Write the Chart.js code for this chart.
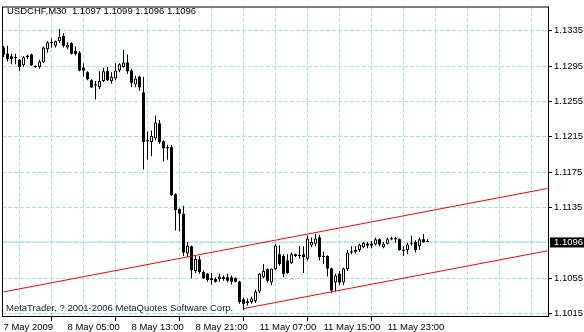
<!DOCTYPE html>
<html>
<head>
<meta charset="utf-8">
<script src="https://cdn.jsdelivr.net/npm/chart.js@4.4.1/dist/chart.umd.min.js"></script>
<style>
html,body{margin:0;padding:0;background:#fff;}
#wrap{position:relative;width:584px;height:332px;}
</style>
</head>
<body>
<div id="wrap"><canvas id="c" width="584" height="332"></canvas></div>
<script>
// ---------------- DATA ----------------
const symbol = "USDCHF,M30";
const copyright = "MetaTrader, ? 2001-2006 MetaQuotes Software Corp.";
const timeLabels = ["7 May 2009", "8 May 05:00", "8 May 13:00", "8 May 21:00", "11 May 07:00", "11 May 15:00", "11 May 23:00"];
const labelBars = [0, 16, 32, 48, 64, 80, 96];
const yTickValues = [1.1015, 1.1055, 1.1095, 1.1135, 1.1175, 1.1215, 1.1255, 1.1295, 1.1335];

const opens = [
 1.1316,1.1309,1.1306,1.1304,1.1302,1.1296,1.1305,1.1308,1.1295,1.1294,
 1.1299,1.1314,1.1321,1.1318,1.1323,1.1329,1.1316,1.1321,1.1312,1.1310,
 1.1293,1.1288,1.1279,1.1274,1.1271,1.1278,1.1289,1.1278,1.1281,1.1290,
 1.1294,1.1299,1.1290,1.1274,1.1283,1.1265,1.1210,1.1209,1.1213,1.1230,
 1.1210,1.1202,1.1203,1.1150,1.1133,1.1128,1.1083,1.1091,1.1063,1.1076,
 1.1062,1.1060,1.1055,1.1054,1.1054,1.1056,1.1056,1.1056,1.1055,1.1051,
 1.1031,1.1027,1.1028,1.1029,1.1040,1.1056,1.1065,1.1050,1.1065,1.1082,
 1.1080,1.1075,1.1072,1.1082,1.1081,1.1082,1.1077,1.1092,1.1094,1.1101,
 1.1080,1.1080,1.1066,1.1050,1.1060,1.1050,1.1065,1.1085,1.1087,1.1087,
 1.1090,1.1094,1.1094,1.1093,1.1099,1.1090,1.1094,1.1100,1.1099,1.1099,
 1.1087,1.1087,1.1094,1.1096,1.1091,1.1099,1.1097];
const highs = [
 1.1318,1.1318,1.1309,1.1309,1.1303,1.1306,1.1308,1.1309,1.1296,1.1302,
 1.1317,1.1323,1.1326,1.1324,1.1337,1.1332,1.1322,1.1322,1.1317,1.1312,
 1.1298,1.1289,1.1280,1.1278,1.1289,1.1293,1.1294,1.1288,1.1298,1.1298,
 1.1313,1.1308,1.1292,1.1284,1.1284,1.1283,1.1221,1.1222,1.1239,1.1234,
 1.1211,1.1206,1.1206,1.1151,1.1134,1.1137,1.1096,1.1092,1.1080,1.1080,
 1.1064,1.1061,1.1061,1.1056,1.1060,1.1058,1.1060,1.1058,1.1056,1.1052,
 1.1033,1.1032,1.1034,1.1042,1.1061,1.1071,1.1066,1.1066,1.1094,1.1092,
 1.1082,1.1082,1.1084,1.1083,1.1091,1.1091,1.1103,1.1101,1.1105,1.1104,
 1.1085,1.1081,1.1067,1.1060,1.1063,1.1067,1.1087,1.1091,1.1091,1.1094,
 1.1096,1.1096,1.1097,1.1101,1.1100,1.1096,1.1101,1.1102,1.1102,1.1100,
 1.1091,1.1095,1.1103,1.1098,1.1101,1.1105,1.1099];
const lows = [
 1.1305,1.1300,1.1297,1.1297,1.1289,1.1294,1.1303,1.1295,1.1293,1.1292,
 1.1298,1.1310,1.1316,1.1316,1.1321,1.1316,1.1314,1.1308,1.1307,1.1289,
 1.1283,1.1279,1.1270,1.1257,1.1269,1.1277,1.1278,1.1275,1.1279,1.1288,
 1.1293,1.1286,1.1271,1.1271,1.1267,1.1178,1.1189,1.1193,1.1211,1.1207,
 1.1187,1.1189,1.1148,1.1109,1.1108,1.1080,1.1079,1.1055,1.1061,1.1060,
 1.1054,1.1051,1.1048,1.1050,1.1051,1.1052,1.1050,1.1048,1.1050,1.1026,
 1.1019,1.1024,1.1026,1.1027,1.1038,1.1055,1.1050,1.1047,1.1064,1.1069,
 1.1056,1.1060,1.1071,1.1079,1.1077,1.1061,1.1075,1.1090,1.1091,1.1075,
 1.1071,1.1057,1.1038,1.1040,1.1047,1.1047,1.1063,1.1082,1.1083,1.1085,
 1.1089,1.1089,1.1089,1.1092,1.1091,1.1089,1.1093,1.1098,1.1095,1.1086,
 1.1080,1.1082,1.1092,1.1084,1.1087,1.1095,1.1096];
const closes = [
 1.1308,1.1303,1.1303,1.1304,1.1294,1.1305,1.1307,1.1296,1.1294,1.1300,
 1.1316,1.1322,1.1321,1.1323,1.1328,1.1318,1.1319,1.1309,1.1309,1.1290,
 1.1290,1.1280,1.1271,1.1273,1.1278,1.1289,1.1279,1.1283,1.1290,1.1297,
 1.1299,1.1289,1.1276,1.1281,1.1271,1.1209,1.1210,1.1216,1.1231,1.1209,
 1.1202,1.1202,1.1149,1.1132,1.1128,1.1084,1.1092,1.1064,1.1077,1.1062,
 1.1055,1.1053,1.1053,1.1051,1.1057,1.1054,1.1052,1.1051,1.1051,1.1028,
 1.1026,1.1029,1.1032,1.1040,1.1060,1.1063,1.1052,1.1066,1.1092,1.1071,
 1.1060,1.1061,1.1082,1.1080,1.1080,1.1079,1.1100,1.1096,1.1100,1.1079,
 1.1079,1.1066,1.1041,1.1058,1.1050,1.1066,1.1084,1.1084,1.1085,1.1093,
 1.1095,1.1092,1.1092,1.1099,1.1093,1.1094,1.1099,1.1099,1.1099,1.1087,
 1.1086,1.1093,1.1095,1.1087,1.1099,1.1096,1.1096];

// price channel: [bar index, price] anchor points
const channelUpper = [[0, 1.10395], [136, 1.11565]];
const channelLower = [[60, 1.10206], [136, 1.10860]];

// ---------------- LAYOUT ----------------
const last = closes.length - 1;
const bid = closes[last];
const FONT = '"Liberation Sans", Arial, sans-serif';
const GRID = '#a4e6e6';
const AREA = {left: 2, top: 2, right: 549, bottom: 317};
const BAR_W = 4, BAR0 = 3.5;            // px per bar, centre of bar 0
const PX_PER_UNIT = 287 / 0.032, Y_REF = 313.5, P_REF = 1.1015;
const xMin = (AREA.left - BAR0) / BAR_W;
const xMax = (AREA.right - BAR0) / BAR_W;
const yMax = P_REF + (Y_REF - AREA.top) / PX_PER_UNIT;
const yMin = P_REF - (AREA.bottom - Y_REF) / PX_PER_UNIT;

const gridBars = [];
for (let v = 0; v < xMax - 1; v += 8) gridBars.push(v);
const yTicksAll = yTickValues.concat([bid]).sort((a, b) => a - b);
const isHiddenY = v => v !== bid && Math.abs(v - bid) < 0.0003;

const bull = i => closes[i] > opens[i];
const idx = opens.map((_, i) => i);

const title = symbol + '  ' + [opens[last], highs[last], lows[last], closes[last]].map(v => v.toFixed(4)).join(' ');

const decor = {
  id: 'decor',
  beforeDatasetsDraw(chart) {
    const ctx = chart.ctx;
    ctx.save();
    ctx.font = '9.5px ' + FONT;
    ctx.fillStyle = '#000';
    ctx.textBaseline = 'alphabetic';
    ctx.fillText(title, 7, 14);
    ctx.fillStyle = '#1a1a2a';
    ctx.fillText(copyright, 6, 311);
    ctx.restore();
  },
  afterDraw(chart) {
    const ctx = chart.ctx, ca = chart.chartArea;
    ctx.save();
    ctx.setLineDash([]);
    ctx.strokeStyle = '#000';
    ctx.lineWidth = 1;
    ctx.strokeRect(ca.left + 0.5, ca.top + 0.5, ca.right - ca.left - 1, ca.bottom - ca.top - 1);
    ctx.restore();
  }
};

new Chart(document.getElementById('c'), {
  type: 'bar',
  data: {
    datasets: [
      {
        type: 'line', label: 'upper', order: 0,
        data: channelUpper.map(p => ({x: p[0], y: p[1]})),
        borderColor: '#ff0000', borderWidth: 1, pointRadius: 0, fill: false
      },
      {
        type: 'line', label: 'lower', order: 0,
        data: channelLower.map(p => ({x: p[0], y: p[1]})),
        borderColor: '#ff0000', borderWidth: 1, pointRadius: 0, fill: false
      },
      {
        label: 'bodies', order: 1,
        data: idx.map(i => ({x: i, y: [opens[i], closes[i]]})),
        backgroundColor: idx.map(i => bull(i) ? '#ffffff' : '#000000'),
        borderColor: '#000000',
        borderWidth: idx.map(i => bull(i) ? 1 : 0),
        borderSkipped: false,
        barThickness: 3, minBarLength: 1, grouped: false, inflateAmount: 0
      },
      {
        label: 'wicks', order: 2,
        data: idx.map(i => ({x: i, y: [lows[i], highs[i]]})),
        backgroundColor: '#000000', borderWidth: 0,
        barThickness: 1, minBarLength: 1, grouped: false, inflateAmount: 0
      },
      {
        type: 'line', label: 'bid', order: 3,
        data: [{x: xMin, y: bid}, {x: xMax, y: bid}],
        borderColor: GRID, borderWidth: 1, pointRadius: 0, fill: false
      }
    ]
  },
  options: {
    responsive: false, animation: false,
    layout: {autoPadding: false, padding: {left: AREA.left, top: AREA.top, right: 0, bottom: 0}},
    plugins: {legend: {display: false}, tooltip: {enabled: false}},
    font: {family: FONT, size: 9.5},
    scales: {
      x: {
        type: 'linear', offset: false, min: xMin, max: xMax,
        afterFit: s => { s.height = 332 - AREA.bottom; },
        afterBuildTicks: s => { s.ticks = gridBars.map(v => ({value: v})); },
        border: {display: false, dash: [4, 2]},
        grid: {
          color: c => (c.tick && c.tick.value === 0) ? 'rgba(0,0,0,0)' : GRID,
          lineWidth: 1, drawTicks: true, tickLength: 4, tickBorderDash: [],
          tickColor: c => (c.tick && labelBars.includes(c.tick.value)) ? '#000' : 'rgba(0,0,0,0)'
        },
        ticks: {
          autoSkip: false, maxRotation: 0, minRotation: 0, align: 'start', padding: 1,
          color: '#000', font: {family: FONT, size: 9.5},
          callback: v => { const k = labelBars.indexOf(v); return k >= 0 ? timeLabels[k] : ''; }
        }
      },
      y: {
        type: 'linear', position: 'right', min: yMin, max: yMax,
        afterFit: s => { s.width = 584 - AREA.right; },
        afterBuildTicks: s => { s.ticks = yTicksAll.map(v => ({value: v})); },
        border: {display: false, dash: [4, 2]},
        grid: {
          color: c => (c.tick && c.tick.value === bid) ? 'rgba(0,0,0,0)' : GRID,
          lineWidth: 1, drawTicks: true, tickLength: 3, tickBorderDash: [],
          tickColor: c => (c.tick && (c.tick.value === bid || isHiddenY(c.tick.value))) ? 'rgba(0,0,0,0)' : '#000'
        },
        ticks: {
          autoSkip: false, padding: 2,
          font: {family: FONT, size: 9.5, lineHeight: 0.95},
          color: c => (c.tick && c.tick.value === bid) ? '#fff' : '#000',
          showLabelBackdrop: c => !!(c.tick && c.tick.value === bid),
          backdropColor: '#000',
          backdropPadding: {top: 0, bottom: 1, left: 4, right: 2},
          callback: v => isHiddenY(v) ? '' : v.toFixed(4)
        }
      }
    }
  },
  plugins: [decor]
});
</script>
</body>
</html>
